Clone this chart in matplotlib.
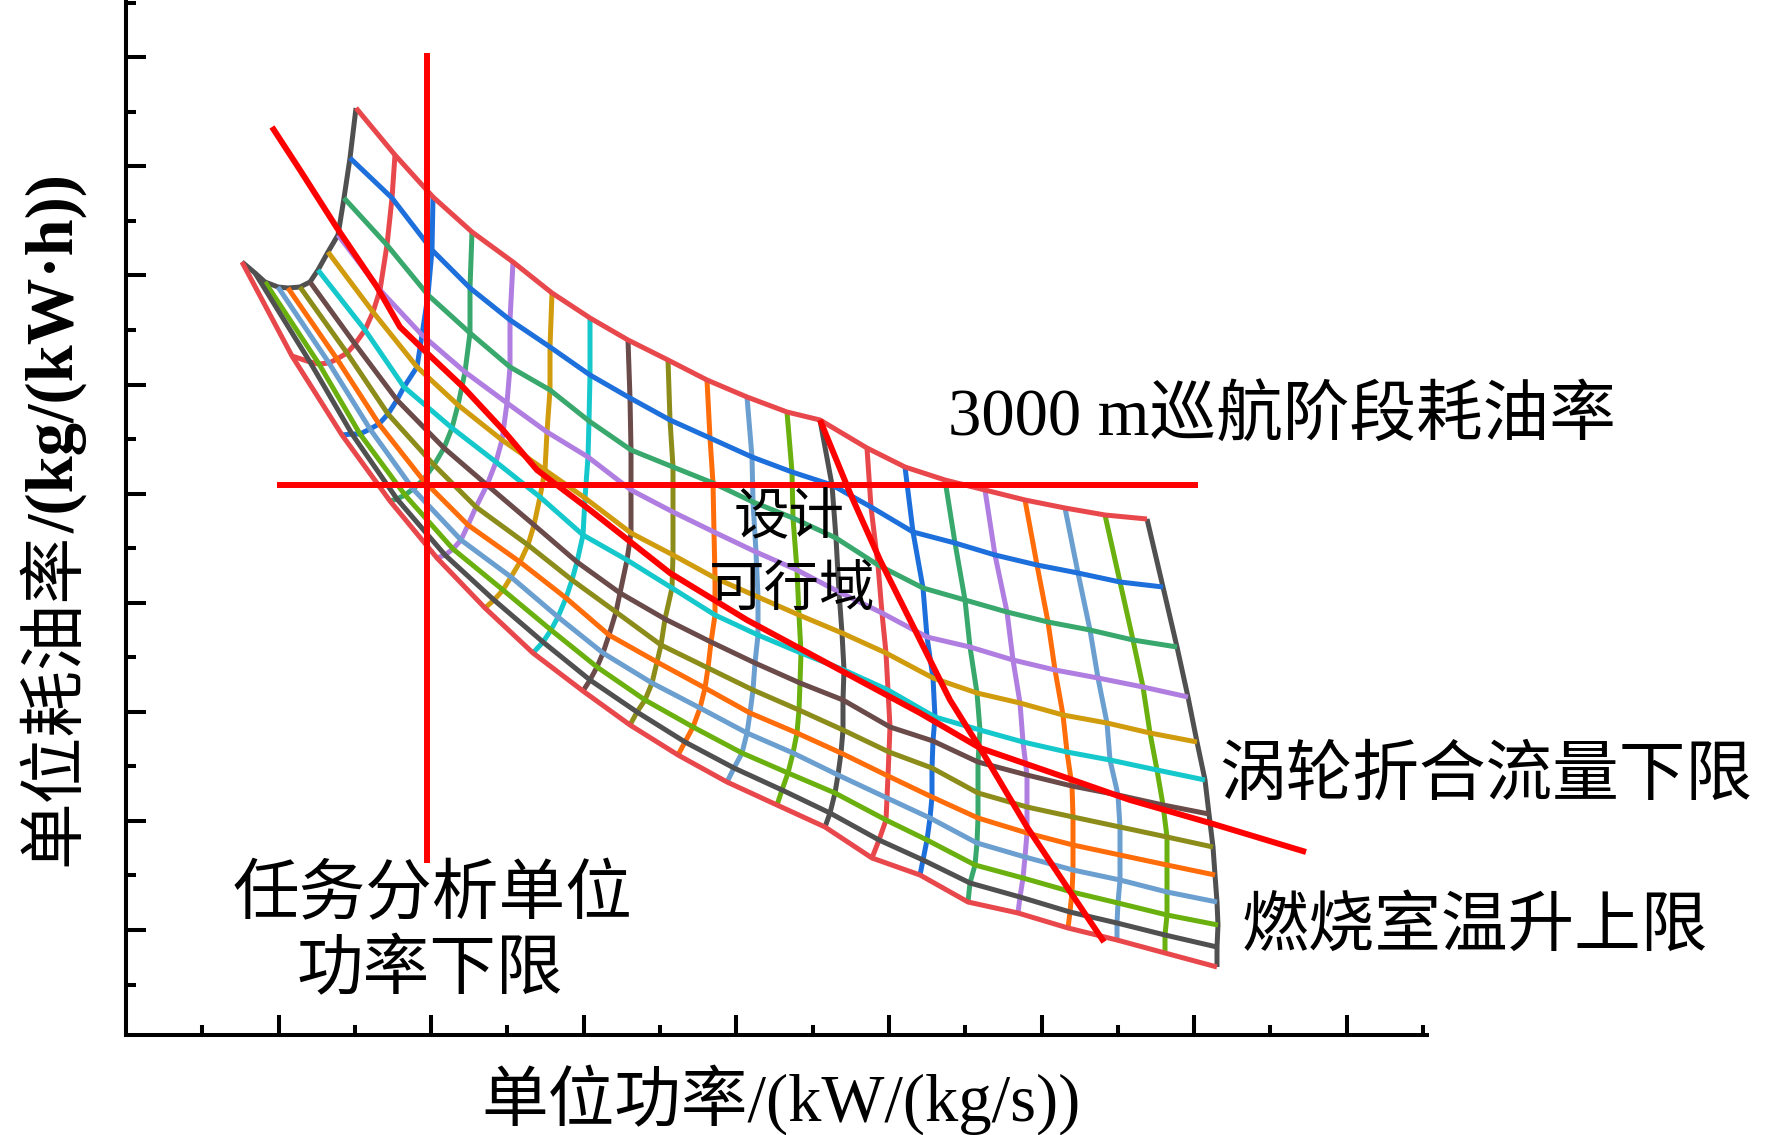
import numpy as np
import matplotlib
matplotlib.use("Agg")
import matplotlib.pyplot as plt
from matplotlib.ticker import FixedLocator

plt.rcParams['font.family'] = ['Liberation Serif', 'Noto Sans CJK SC']

# carpet plot, values (chart units, the source has no tick labels)
# each row is one line of the first parameter family, each column one line of the second
spec_power = [
    [230, 269, 307, 346, 387, 426, 464, 502, 542, 581, 621, 661, 694, 741, 779, 819, 859, 899, 939, 979, 1021],
    [224, 266, 306, 344, 384, 424, 464, 504, 544, 584, 626, 666, 706, 745, 787, 829, 869, 911, 952, 994, 1037],
    [218, 261, 302, 344, 384, 424, 463, 505, 547, 587, 627, 667, 710, 752, 797, 839, 881, 922, 964, 1007, 1051],
    [212, 254, 296, 339, 381, 421, 462, 505, 547, 588, 630, 671, 713, 756, 801, 844, 887, 929, 972, 1017, 1062],
    [202, 247, 291, 332, 376, 419, 459, 505, 547, 589, 632, 673, 716, 760, 807, 851, 894, 937, 981, 1024, 1071],
    [192, 239, 278, 326, 370, 414, 457, 501, 546, 589, 632, 675, 718, 762, 809, 854, 897, 941, 984, 1031, 1079],
    [184, 229, 271, 318, 361, 408, 451, 494, 539, 585, 629, 674, 717, 764, 807, 852, 901, 946, 992, 1037, 1083],
    [174, 221, 262, 308, 350, 402, 446, 490, 535, 582, 627, 673, 717, 763, 806, 852, 901, 947, 994, 1041, 1087],
    [162, 211, 253, 297, 342, 394, 440, 483, 531, 579, 624, 671, 715, 762, 806, 852, 901, 947, 994, 1041, 1089],
    [152, 203, 244, 287, 335, 385, 432, 477, 526, 574, 621, 667, 712, 761, 804, 851, 899, 947, 994, 1041, 1091],
    [139, 193, 234, 279, 327, 377, 425, 471, 519, 567, 616, 662, 709, 760, 801, 849, 897, 946, 992, 1041, 1092],
    [129, 184, 226, 271, 319, 368, 417, 464, 511, 559, 608, 656, 704, 753, 797, 844, 894, 944, 991, 1039, 1091],
    [116, 166, 216, 264, 311, 359, 407, 457, 504, 552, 601, 651, 699, 746, 794, 842, 892, 942, 991, 1039, 1091],
]
sfc = [
    [927, 880, 838, 803, 773, 742, 717, 695, 675, 655, 638, 623, 615, 587, 568, 555, 545, 535, 527, 520, 516],
    [877, 837, 785, 747, 715, 688, 660, 637, 615, 597, 578, 563, 550, 528, 503, 492, 480, 470, 462, 453, 448],
    [837, 790, 740, 702, 668, 645, 614, 585, 568, 552, 533, 517, 497, 470, 447, 435, 423, 413, 405, 395, 388],
    [800, 745, 700, 663, 632, 603, 578, 545, 523, 503, 483, 465, 443, 422, 398, 388, 375, 365, 357, 348, 338],
    [783, 723, 668, 630, 595, 565, 537, 502, 480, 457, 438, 420, 402, 382, 357, 342, 332, 320, 312, 302, 293],
    [765, 705, 648, 607, 573, 538, 500, 475, 447, 420, 400, 382, 365, 345, 318, 305, 293, 283, 275, 265, 255],
    [753, 691, 635, 587, 550, 510, 473, 442, 416, 393, 372, 352, 335, 308, 294, 273, 260, 249, 240, 230, 221],
    [748, 682, 621, 570, 528, 490, 455, 423, 390, 367, 345, 325, 305, 283, 267, 242, 228, 218, 208, 198, 188],
    [747, 676, 611, 555, 510, 473, 437, 400, 373, 347, 322, 302, 282, 259, 238, 217, 202, 190, 180, 170, 160],
    [748, 672, 606, 546, 495, 458, 418, 382, 352, 327, 302, 282, 260, 237, 217, 192, 178, 165, 155, 143, 133],
    [753, 671, 601, 540, 486, 445, 405, 368, 335, 308, 282, 262, 242, 215, 195, 170, 157, 143, 132, 120, 110],
    [762, 673, 601, 536, 480, 435, 393, 355, 323, 293, 267, 245, 222, 195, 175, 152, 138, 123, 112, 100, 88],
    [773, 679, 600, 534, 477, 427, 382, 344, 310, 280, 253, 230, 208, 177, 160, 133, 122, 107, 95, 82, 68],
]

# constraint lines
cruise_x = [151, 1072]
cruise_y = [550, 550]
power_min_x = [301, 301]
power_min_y = [172, 982]
turbine_x = [146, 174, 211, 251, 274, 301, 337, 377, 411, 464, 544, 621, 794, 854, 941, 1004, 1084, 1180]
turbine_y = [908, 865, 807, 748, 708, 682, 648, 605, 565, 525, 462, 415, 322, 287, 257, 235, 212, 183]
comb_x = [694, 724, 754, 824, 854, 901, 941, 978]
comb_y = [615, 542, 475, 335, 287, 208, 148, 93]

red_b = '#e8474b'
blue = '#1d6fdc'
green = '#38a86c'
purple = '#b07ee0'
gold = '#d19b0e'
cyan = '#14c8cc'
brown = '#6b4a4a'
olive = '#8c8c1a'
orange = '#ff6c0a'
steel = '#6a9fd0'
lime = '#6ab00e'
dgray = '#505050'

row_colors = [red_b, blue, green, purple, gold, cyan, brown, olive, orange, steel, lime, dgray, red_b]
col_colors = [dgray, red_b, blue, green, purple, gold, cyan, brown, olive, orange, steel, lime,
              dgray, red_b, blue, green, purple, orange, steel, lime, dgray]

W, H = 1772, 1135
fig = plt.figure(figsize=(W / 100, H / 100), dpi=100)
ax = fig.add_axes([126 / W, 100 / H, 1301 / W, 1035 / H])

P = np.array(spec_power)
S = np.array(sfc)

lw = 3.6
for j in range(P.shape[1]):
    ax.plot(P[:, j], S[:, j], color=col_colors[j], lw=lw, solid_capstyle='butt', zorder=2)
for i in range(P.shape[0]):
    ax.plot(P[i], S[i], color=row_colors[i], lw=lw, solid_capstyle='butt', zorder=3)

red = '#ff0000'
rlw = 4.3
ax.plot(cruise_x, cruise_y, color=red, lw=rlw, solid_capstyle='butt', zorder=5)
ax.plot(power_min_x, power_min_y, color=red, lw=rlw, solid_capstyle='butt', zorder=5)
ax.plot(turbine_x, turbine_y, color=red, lw=rlw, solid_capstyle='butt', zorder=5)
ax.plot(comb_x, comb_y, color=red, lw=rlw, solid_capstyle='butt', zorder=5)

fs = 48
ax.text(822, 617, '3000 m巡航阶段耗油率', fontsize=fs, ha='left', va='center', zorder=6)
ax.text(663, 515, '设计', fontsize=40, ha='center', va='center', zorder=6)
ax.text(666, 443, '可行域', fontsize=40, ha='center', va='center', zorder=6)
ax.text(1093, 257, '涡轮折合流量下限', fontsize=fs, ha='left', va='center', zorder=6)
ax.text(1116, 106, '燃烧室温升上限', fontsize=fs, ha='left', va='center', zorder=6)
ax.text(306, 138, '任务分析单位', fontsize=fs, ha='center', va='center', zorder=6)
ax.text(304, 63, '功率下限', fontsize=fs, ha='center', va='center', zorder=6)

ax.set_xlim(0, 1301)
ax.set_ylim(0, 1035)
for s in ['top', 'right']:
    ax.spines[s].set_visible(False)
for s in ['bottom', 'left']:
    ax.spines[s].set_linewidth(2.9)

ax.xaxis.set_major_locator(FixedLocator(np.arange(152.6, 1300, 152.6)))
ax.xaxis.set_minor_locator(FixedLocator(np.arange(76.3, 1300, 152.6)))
ax.yaxis.set_major_locator(FixedLocator(np.arange(105, 1035, 109.1)))
ax.yaxis.set_minor_locator(FixedLocator(np.arange(50.5, 1035, 109.1)))
ax.tick_params(which='both', direction='in', width=2.9, labelbottom=False, labelleft=False)
ax.tick_params(which='major', length=14.4)
ax.tick_params(which='minor', length=7.2)

fig.text(781 / W, 1 - 1100 / H, '单位功率/(kW/(kg/s))', fontsize=fs, ha='center', va='center')
t1 = fig.text(57 / W, 1 - 866 / H, '单位耗油率', fontsize=fs, rotation=90, ha='center', va='bottom')
ax.annotate('/(kg/(kW·h))', xy=(0.5, 1.0), xycoords=t1, fontsize=fs, fontweight='bold',
            rotation=90, ha='center', va='bottom', annotation_clip=False)

fig.savefig('out.png', dpi=100)
